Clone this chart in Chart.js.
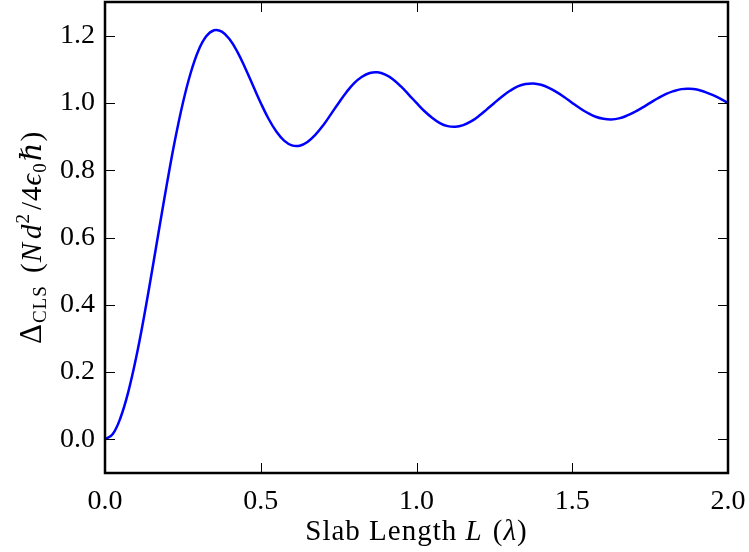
<!DOCTYPE html>
<html><head><meta charset="utf-8">
<script src="https://cdn.jsdelivr.net/npm/chart.js@4/dist/chart.umd.min.js"></script>
<style>html,body{margin:0;padding:0;background:#fff}#wrap{width:749px;height:552px}</style>
</head><body><div id="wrap"><canvas id="c" width="749" height="552"></canvas></div>
<script>
const slabLength = [0,0.025,0.05,0.075,0.1,0.125,0.15,0.175,0.2,0.225,0.25,0.275,0.3,0.325,0.35,0.375,0.4,0.425,0.45,0.475,0.5,0.525,0.55,0.575,0.6,0.625,0.65,0.675,0.7,0.725,0.75,0.775,0.8,0.825,0.85,0.875,0.9,0.925,0.95,0.975,1.0,1.025,1.05,1.075,1.1,1.125,1.15,1.175,1.2,1.225,1.25,1.275,1.3,1.325,1.35,1.375,1.4,1.425,1.45,1.475,1.5,1.525,1.55,1.575,1.6,1.625,1.65,1.675,1.7,1.725,1.75,1.775,1.8,1.825,1.85,1.875,1.9,1.925,1.95,1.975,2.0];
const deltaCLS = [0,0.016,0.065,0.142,0.243,0.363,0.495,0.632,0.766,0.891,1.0,1.089,1.156,1.198,1.216,1.212,1.189,1.152,1.104,1.052,1.0,0.953,0.915,0.888,0.874,0.873,0.884,0.905,0.933,0.966,1.0,1.032,1.059,1.078,1.089,1.091,1.084,1.070,1.049,1.025,1.0,0.976,0.956,0.940,0.931,0.929,0.934,0.945,0.961,0.980,1.0,1.019,1.036,1.049,1.056,1.058,1.054,1.045,1.032,1.017,1.0,0.984,0.970,0.959,0.953,0.951,0.954,0.962,0.973,0.986,1.0,1.014,1.026,1.035,1.041,1.042,1.040,1.033,1.024,1.013,1.0];
const xTicks = [0,0.5,1.0,1.5,2.0];
const yTicks = [0,0.2,0.4,0.6,0.8,1.0,1.2];

const FONT = '"Liberation Serif","DejaVu Serif",serif';
const PAD = {left:0, right:21, top:2, bottom:0};

const framePlugin = {
  id:'frame',
  afterDraw(chart){
    const ctx = chart.ctx, a = chart.chartArea;
    const xs = chart.scales.x, ys = chart.scales.y;
    ctx.save();
    ctx.strokeStyle = '#000';
    ctx.lineWidth = 1;
    ctx.beginPath();
    xTicks.forEach(v=>{
      const p = Math.round(xs.getPixelForValue(v))+0.5;
      ctx.moveTo(p,a.bottom); ctx.lineTo(p,a.bottom-10);
      ctx.moveTo(p,a.top); ctx.lineTo(p,a.top+10);
    });
    yTicks.forEach(v=>{
      const p = Math.round(ys.getPixelForValue(v))+0.5;
      ctx.moveTo(a.left,p); ctx.lineTo(a.left+10,p);
      ctx.moveTo(a.right,p); ctx.lineTo(a.right-10,p);
    });
    ctx.stroke();
    ctx.lineWidth = 2.5;
    ctx.strokeRect(a.left, a.top, a.right-a.left, a.bottom-a.top);

    function drawParts(parts, x, y){
      ctx.letterSpacing = '1px';
      let total = 0;
      parts.forEach(p=>{ ctx.font = p.f; p.w = ctx.measureText(p.t).width + (p.gap||0); total += p.w; });
      let cx = x - total/2;
      ctx.textBaseline = 'alphabetic';
      ctx.textAlign = 'left';
      ctx.fillStyle = '#000';
      parts.forEach(p=>{ ctx.font = p.f; ctx.fillText(p.t, cx, y + (p.dy||0)); cx += p.w; });
      ctx.letterSpacing = '0px';
    }
    const N = '29px '+FONT, I = 'italic 29px '+FONT, S = '19px '+FONT;
    drawParts([
      {t:'Slab Length ', f:N},
      {t:'L', f:I, gap:2},
      {t:' (', f:N},
      {t:'λ', f:I},
      {t:')', f:N}
    ], (a.left+a.right)/2, 540);
    ctx.save();
    ctx.translate(41, (a.top+a.bottom)/2);
    ctx.rotate(-Math.PI/2);
    drawParts([
      {t:'Δ', f:'31px '+FONT},
      {t:'CLS', f:S, dy:5, gap:4},
      {t:' (', f:N},
      {t:'N', f:I, gap:3},
      {t:'d', f:I},
      {t:'2', f:S, dy:-12, gap:3},
      {t:'/4', f:N},
      {t:'ϵ', f:I},
      {t:'0', f:S, dy:5, gap:1},
      {t:'ℏ', f:I},
      {t:')', f:N}
    ], 0, 0);
    ctx.restore();
    ctx.restore();
  }
};

function noPad(s){ s.paddingTop = 0; s.paddingBottom = 0; s.paddingLeft = 0; s.paddingRight = 0; }

new Chart(document.getElementById('c'), {
  type:'line',
  data:{ datasets:[{
    data: slabLength.map((x,i)=>({x:x, y:deltaCLS[i]})),
    borderColor:'#0000ff', borderWidth:2.5, pointRadius:0, fill:false,
    tension:0.4
  }]},
  options:{
    responsive:false, animation:false, devicePixelRatio:1,
    layout:{padding:PAD},
    plugins:{legend:{display:false}, tooltip:{enabled:false}},
    scales:{
      x:{ type:'linear', min:0, max:2,
        grid:{display:false, drawTicks:false}, border:{display:false},
        afterBuildTicks(s){ s.ticks = xTicks.map(v=>({value:v})); },
        afterFit(s){ s.height = 552 - 473 - PAD.bottom; noPad(s); },
        ticks:{ padding:12, color:'#000', maxRotation:0, font:{family:FONT, size:28},
          callback:v=>v.toFixed(1) }
      },
      y:{ type:'linear', min:-0.1, max:1.3,
        grid:{display:false, drawTicks:false}, border:{display:false},
        afterBuildTicks(s){ s.ticks = yTicks.map(v=>({value:v})); },
        afterFit(s){ s.width = 105 - PAD.left; noPad(s); },
        ticks:{ padding:10, color:'#000', font:{family:FONT, size:28},
          callback:v=>v.toFixed(1) }
      }
    }
  },
  plugins:[framePlugin]
});
</script></body></html>
